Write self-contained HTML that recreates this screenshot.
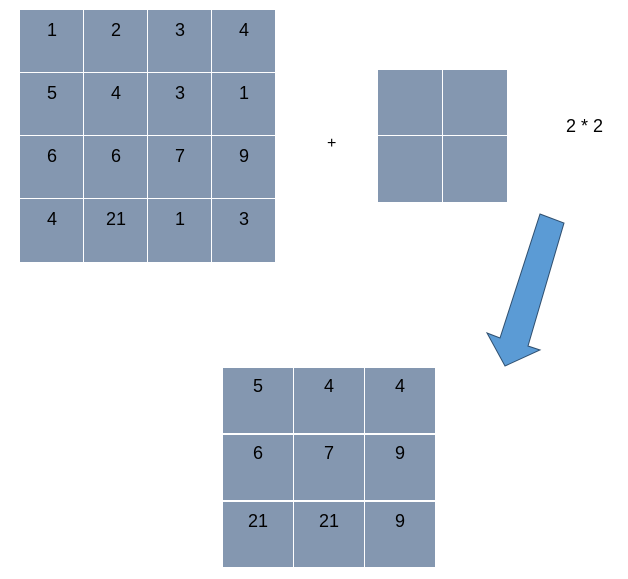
<!DOCTYPE html>
<html><head><style>body{margin:0;background:#fff}svg{display:block}</style></head><body>
<svg width="628" height="579" xmlns="http://www.w3.org/2000/svg" font-family="Liberation Sans, Calibri, sans-serif" font-size="18" fill="#000">
<g fill="#8497B0">
<rect x="20" y="10" width="63" height="62"/><rect x="84" y="10" width="63" height="62"/><rect x="148" y="10" width="63" height="62"/><rect x="212" y="10" width="63" height="62"/>
<rect x="20" y="73" width="63" height="62"/><rect x="84" y="73" width="63" height="62"/><rect x="148" y="73" width="63" height="62"/><rect x="212" y="73" width="63" height="62"/>
<rect x="20" y="136" width="63" height="62"/><rect x="84" y="136" width="63" height="62"/><rect x="148" y="136" width="63" height="62"/><rect x="212" y="136" width="63" height="62"/>
<rect x="20" y="199" width="63" height="63"/><rect x="84" y="199" width="63" height="63"/><rect x="148" y="199" width="63" height="63"/><rect x="212" y="199" width="63" height="63"/>
<rect x="378" y="70" width="64" height="65"/><rect x="443" y="70" width="64" height="65"/>
<rect x="378" y="136" width="64" height="66"/><rect x="443" y="136" width="64" height="66"/>
<rect x="223" y="368" width="70" height="65"/><rect x="294" y="368" width="70" height="65"/><rect x="365" y="368" width="70" height="65"/>
<rect x="223" y="435" width="70" height="65"/><rect x="294" y="435" width="70" height="65"/><rect x="365" y="435" width="70" height="65"/>
<rect x="223" y="502" width="70" height="65"/><rect x="294" y="502" width="70" height="65"/><rect x="365" y="502" width="70" height="65"/>
</g>
<g text-anchor="middle">
<text x="52" y="36">1</text><text x="116" y="36">2</text><text x="180" y="36">3</text><text x="244" y="36">4</text>
<text x="52" y="99">5</text><text x="116" y="99">4</text><text x="180" y="99">3</text><text x="244" y="99">1</text>
<text x="52" y="162">6</text><text x="116" y="162">6</text><text x="180" y="162">7</text><text x="244" y="162">9</text>
<text x="52" y="225">4</text><text x="116" y="225">21</text><text x="180" y="225">1</text><text x="244" y="225">3</text>
<text x="258" y="392">5</text><text x="329" y="392">4</text><text x="400" y="392">4</text>
<text x="258" y="459">6</text><text x="329" y="459">7</text><text x="400" y="459">9</text>
<text x="258" y="527">21</text><text x="329" y="527">21</text><text x="400" y="527">9</text>
</g>
<text x="327" y="148" font-size="16">+</text>
<text x="566" y="132">2 * 2</text>
<polygon points="540,214 564,223 528,346 540,350 505,366 487,333 500,338" fill="#5B9BD5" stroke="#2F4F6F" stroke-width="1"/>
</svg>
</body></html>
